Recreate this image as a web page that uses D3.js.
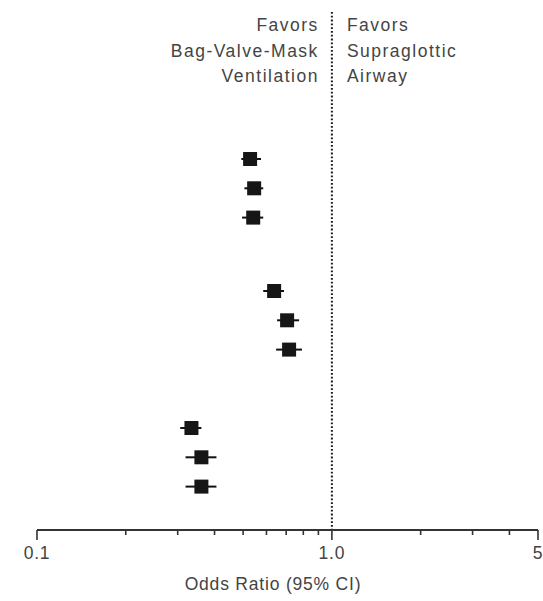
<!DOCTYPE html>
<html>
<head>
<meta charset="utf-8">
<script src="https://cdn.jsdelivr.net/npm/d3@7/dist/d3.min.js"></script>
<style>
  html, body { margin: 0; padding: 0; background: #fff; }
  svg { display: block; }
  text { font-family: "Liberation Sans", Arial, Helvetica, sans-serif; fill: #444; }
</style>
</head>
<body>
<svg id="chart" width="543" height="601"></svg>
<script>
// Odds ratios with 95% CI, three groups of three estimates
const groups = [0, 0, 0, 1, 1, 1, 2, 2, 2];
const oddsRatio = [0.528, 0.545, 0.541, 0.637, 0.705, 0.716, 0.334, 0.361, 0.361];
const ciLower   = [0.493, 0.505, 0.496, 0.585, 0.652, 0.647, 0.306, 0.319, 0.319];
const ciUpper   = [0.575, 0.585, 0.585, 0.688, 0.774, 0.792, 0.361, 0.406, 0.406];

const majorTicks = [0.1, 1, 5];
const majorLabels = ["0.1", "1.0", "5"];
const minorTicks = [0.2, 0.3, 0.4, 0.5, 0.6, 0.7, 0.8, 0.9, 2, 3, 4];

const leftHeader = ["Favors", "Bag-Valve-Mask", "Ventilation"];
const rightHeader = ["Favors", "Supraglottic", "Airway"];
const axisTitle = "Odds Ratio (95% CI)";

const svg = d3.select("#chart");
const axisY = 530;

const x = d3.scaleLog().domain([0.1, 5]).range([37, 538]);

// vertical row position: group offset plus row within group
const groupTop = d3.scaleLinear().domain([0, 1, 2]).range([159, 291, 428]);
const rowY = i => {
  const g = groups[i];
  const within = i - groups.indexOf(g);
  return groupTop(g) + within * 29.3;
};

// reference line at OR = 1
svg.append("line")
  .attr("x1", x(1)).attr("x2", x(1))
  .attr("y1", 12).attr("y2", axisY)
  .attr("stroke", "#1a1a1a").attr("stroke-width", 2)
  .attr("stroke-dasharray", "1.8,2");

// header labels either side of the reference line
const hdr = svg.append("g").attr("font-size", 17.5).attr("letter-spacing", 1.5);
leftHeader.forEach((t, i) => {
  hdr.append("text").attr("x", x(1) - 13).attr("y", 31 + i * 25.5)
    .attr("text-anchor", "end").text(t);
});
rightHeader.forEach((t, i) => {
  hdr.append("text").attr("x", x(1) + 15).attr("y", 31 + i * 25.5)
    .attr("text-anchor", "start").text(t);
});

// confidence intervals and point estimates
const pts = svg.append("g");
oddsRatio.forEach((v, i) => {
  const y = rowY(i);
  pts.append("line")
    .attr("x1", x(ciLower[i])).attr("x2", x(ciUpper[i]))
    .attr("y1", y).attr("y2", y)
    .attr("stroke", "#111").attr("stroke-width", 2);
  pts.append("rect")
    .attr("x", x(v) - 7).attr("y", y - 7)
    .attr("width", 14).attr("height", 14)
    .attr("fill", "#161616");
});

// x axis: log scale with major and minor ticks
const ax = svg.append("g");
ax.append("line").attr("x1", x(0.1)).attr("x2", x(5))
  .attr("y1", axisY).attr("y2", axisY)
  .attr("stroke", "#333").attr("stroke-width", 1.8);
ax.selectAll(".major").data(majorTicks).join("line")
  .attr("x1", d => x(d)).attr("x2", d => x(d))
  .attr("y1", axisY).attr("y2", axisY + 10)
  .attr("stroke", "#333").attr("stroke-width", 1.6);
ax.selectAll(".minor").data(minorTicks).join("line")
  .attr("x1", d => x(d)).attr("x2", d => x(d))
  .attr("y1", axisY).attr("y2", axisY + 5)
  .attr("stroke", "#333").attr("stroke-width", 1.6);
ax.selectAll(".lbl").data(majorTicks).join("text")
  .attr("x", d => x(d)).attr("y", axisY + 29)
  .attr("text-anchor", "middle").attr("font-size", 17.5)
  .attr("letter-spacing", 0.8)
  .text((d, i) => majorLabels[i]);

svg.append("text")
  .attr("x", 273).attr("y", 590)
  .attr("text-anchor", "middle").attr("font-size", 17.5)
  .attr("letter-spacing", 0.8)
  .text(axisTitle);
</script>
</body>
</html>
